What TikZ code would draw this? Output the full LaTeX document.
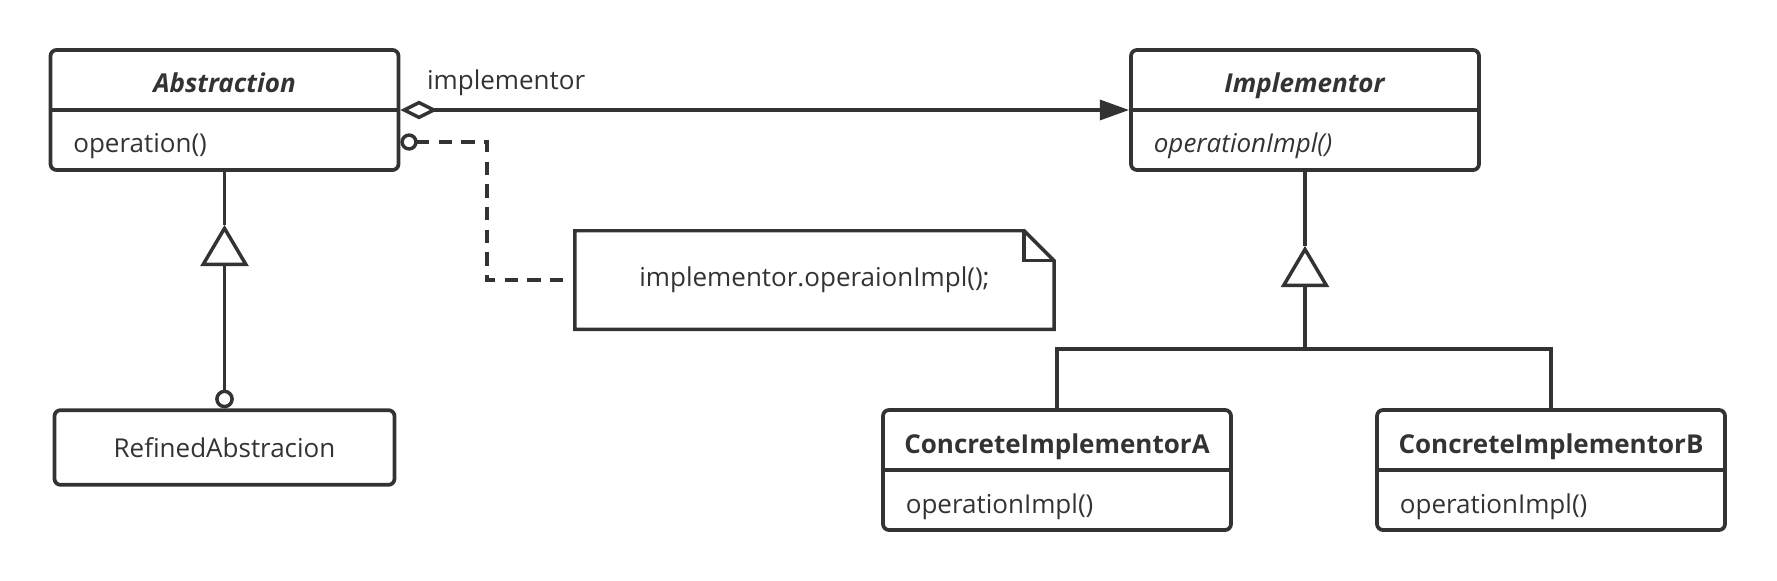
\documentclass[tikz,border=0pt]{standalone}
\usepackage{fontspec}
\setmainfont{Open Sans}
\usetikzlibrary{arrows.meta,calc}
\definecolor{umlink}{HTML}{333333}

\begin{document}
\begin{tikzpicture}[
  x=0.75pt, y=-0.75pt,
  every node/.style={font=\fontsize{19.5}{23}\selectfont, text=umlink},
  classbox/.style={draw=umlink, line width=2.8pt, rounded corners=4.5pt,
    minimum width=261pt, minimum height=90pt, inner sep=0pt},
  plainbox/.style={classbox, minimum width=255pt, minimum height=56pt},
  notebox/.style={minimum width=359pt, minimum height=73.5pt, inner sep=0pt},
  link/.style={draw=umlink, line width=2.6pt},
  inherit/.style={link, -{Triangle[open, length=31pt, width=36pt]}},
  depend/.style={link, dash pattern=on 10pt off 7pt}
]
  \useasboundingbox (0,0) rectangle (1777,581);

  % Classes
  \node[classbox] (abs) at (224.5,110) {};
  \node[classbox] (impl) at (1305,110) {};
  \node[plainbox] (refined) at (224.5,447.5) {RefinedAbstracion};
  \node[classbox] (concA) at (1057,470) {};
  \node[classbox] (concB) at (1551,470) {};

  % Compartments
  \foreach \c in {abs, impl, concA, concB}
    \draw[link, line width=2.8pt] (\c.west) -- (\c.east);

  % Names and operations
  \node[anchor=base] (absname) at ($(abs.center)+(0,-17)$) {\textbf{\textit{Abstraction}}};
  \node[anchor=base west] (absop) at ($(abs.west)+(20,43)$) {operation()};
  \node[anchor=base] (implname) at ($(impl.center)+(0,-17)$) {\textbf{\textit{Implementor}}};
  \node[anchor=base west] (implop) at ($(impl.west)+(20,43)$) {\textit{operationImpl()}};
  \node[anchor=base] (concAname) at ($(concA.center)+(0,-17)$) {\textbf{ConcreteImplementorA}};
  \node[anchor=base west] (concAop) at ($(concA.west)+(20,43)$) {operationImpl()};
  \node[anchor=base] (concBname) at ($(concB.center)+(0,-17)$) {\textbf{ConcreteImplementorB}};
  \node[anchor=base west] (concBop) at ($(concB.west)+(20,43)$) {operationImpl()};

  % Note
  \node[notebox] (note) at (814.5,280) {implementor.operaionImpl();};
  \draw[link] (note.north west) -- ([xshift=-22.5pt]note.north east)
    -- ([yshift=-22.5pt]note.north east) -- (note.south east)
    -- (note.south west) -- cycle;
  \draw[link] ([xshift=-22.5pt]note.north east) |- ([yshift=-22.5pt]note.north east);

  % Association
  \draw[link, {Diamond[open, length=28pt, width=14pt]}-{Triangle[length=22pt, width=15pt]}]
    (abs.east) -- (impl.west);
  \node[anchor=base west] (role) at ($(abs.east)+(22,-20)$) {implementor};

  % Comment link
  \coordinate (bend) at (487,280);
  \draw[depend, {Circle[open, length=13pt]}-] ([yshift=-24pt]abs.east) -| (bend) -- (note.west);

  % Refined abstraction
  \coordinate (ltip) at ($(abs.south)+(0,53)$);
  \draw[link] (abs.south) -- (ltip);
  \draw[link, {Circle[open, length=14pt]}-{Triangle[open, length=31pt, width=36pt]}]
    (refined.north) -- (ltip);

  % Concrete implementors
  \coordinate (rtip) at ($(impl.south)+(0,74)$);
  \coordinate (bus) at ($(impl.south)+(0,177)$);
  \draw[link] (impl.south) -- (rtip);
  \draw[inherit] (bus) -- (rtip);
  \draw[link] (concA.north) |- (bus) -| (concB.north);
\end{tikzpicture}
\end{document}
